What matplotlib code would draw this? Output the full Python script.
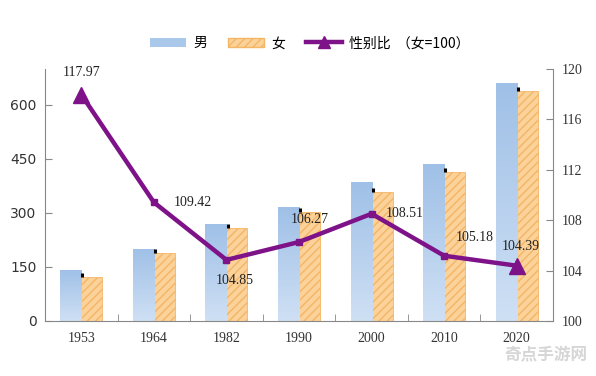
import matplotlib
matplotlib.use("Agg")
import matplotlib.pyplot as plt
import numpy as np
from matplotlib.lines import Line2D
from matplotlib.patches import Patch
from matplotlib.colors import LinearSegmentedColormap

years = ["1953", "1964", "1982", "1990", "2000", "2010", "2020"]
male = [143, 201, 269, 317, 386, 436, 661]
female = [121, 188, 258, 302, 357, 414, 638]
ratio = [117.97, 109.42, 104.85, 106.27, 108.51, 105.18, 104.39]
ratio_labels = ["117.97", "109.42", "104.85", "106.27", "108.51", "105.18", "104.39"]
left_ticks = [0, 150, 300, 450, 600]
right_ticks = [100, 104, 108, 112, 116, 120]

serif = ["Liberation Serif", "DejaVu Serif"]
cjk = ["Noto Sans CJK SC", "DejaVu Sans"]
plt.rcParams["font.family"] = cjk
plt.rcParams["hatch.linewidth"] = 1.0

fig = plt.figure(figsize=(5.96, 3.76), dpi=100)
ax = fig.add_axes([45/596, 55/376, 508/596, 252/376])
x = np.arange(len(years))
w = 0.29

# male bars with gradient
grad = np.linspace(0, 1, 256).reshape(-1, 1)
cmap = LinearSegmentedColormap.from_list("b", ["#CFE0F4", "#9FC0E7"])
mbars = ax.bar(x - w/2, male, width=w, color="#A9C8EA", edgecolor="none", zorder=2)
for b in mbars:
    x0 = b.get_x()
    im = ax.imshow(grad, extent=[x0, x0 + b.get_width(), 0, b.get_height()],
                   origin="lower", cmap=cmap, aspect="auto", zorder=2.1)
    im.set_clip_path(b)

ax.bar(x + w/2, female, width=w, color="#FBD29A", edgecolor="#F4B565",
       linewidth=0.6, hatch="////", zorder=2)
# small dark marks
ax.vlines(x + 0.015, np.array(female), np.array(female) + 12, color="black",
          linewidth=2.2, zorder=3)

ax.set_xlim(-0.5, len(years) - 0.5)
ax.set_ylim(0, 700)
ax.set_yticks(left_ticks)
ax.set_yticklabels([str(t) for t in left_ticks], fontsize=10, color="#333333")
for lab in ax.get_yticklabels():
    lab.set_family(["DejaVu Sans"])
ax.set_xticks(x)
ax.set_xticklabels(years, fontsize=10, family=serif, color="#333333")
ax.set_xticks(np.arange(-0.5, len(years)), minor=True)
ax.tick_params(axis="x", which="major", length=0, pad=8)
ax.tick_params(axis="x", which="minor", length=5, direction="in", color="#888888")
ax.tick_params(axis="y", length=5, direction="in", color="#888888", pad=6)
for s in ["top", "right"]:
    ax.spines[s].set_visible(False)
for s in ["left", "bottom"]:
    ax.spines[s].set_color("#888888")
    ax.spines[s].set_linewidth(0.8)

ax2 = ax.twinx()
ax2.set_ylim(100, 120)
ax2.set_yticks(right_ticks)
ax2.set_yticklabels([str(t) for t in right_ticks], fontsize=10, family=serif, color="#333333")
ax2.tick_params(axis="y", length=5, direction="in", color="#888888", pad=6)
for s in ["top", "left", "bottom"]:
    ax2.spines[s].set_visible(False)
ax2.spines["right"].set_color("#888888")
ax2.spines["right"].set_linewidth(0.8)

purple = "#7E1289"
ax2.plot(x, ratio, color=purple, linewidth=3.2, zorder=5)
ax2.plot(x[1:-1], ratio[1:-1], linestyle="none", marker="s", markersize=5, color=purple, zorder=6)
ax2.plot([x[0], x[-1]], [ratio[0], ratio[-1]], linestyle="none", marker="^", markersize=12,
         color=purple, zorder=6)

offsets = [(0, 16), (28, 0), (6, -15), (8, 16), (24, 0), (22, 13), (3, 14)]
for xi, r, lab, (dx, dy) in zip(x, ratio, ratio_labels, offsets):
    ax2.annotate(lab, (xi, r), xytext=(dx, dy), textcoords="offset points",
                 ha="center", va="center", fontsize=10, family=serif, color="#222222", zorder=7)

handles = [Patch(facecolor="#A9C8EA", edgecolor="none"),
           Patch(facecolor="#FBD29A", edgecolor="#F4B565", hatch="////"),
           Line2D([0], [0], color=purple, linewidth=3.2, marker="^", markersize=9)]
fig.legend(handles, ["男", "女", "性别比  （女=100）"], loc="center", bbox_to_anchor=(0.52, 0.885),
           ncol=3, frameon=False, fontsize=10, handlelength=2.6, handleheight=0.7,
           columnspacing=1.5, handletextpad=0.5)

fig.text(0.985, 0.03, "奇点手游网", ha="right", va="bottom", fontsize=12,
         color="#cccccc", alpha=0.8, fontweight="bold")

fig.savefig("out.png", dpi=100)
